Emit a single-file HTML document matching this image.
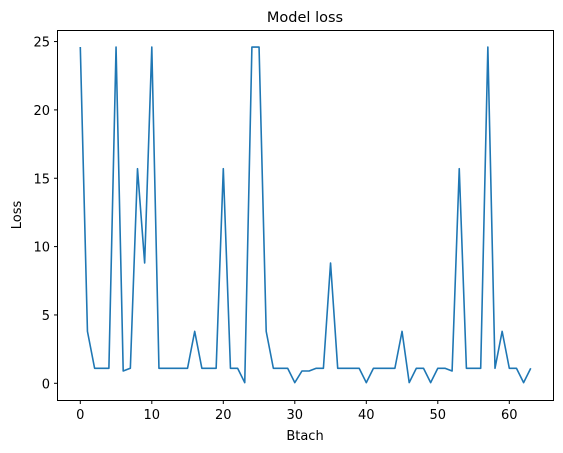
<!DOCTYPE html>
<html><head><meta charset="utf-8"><style>
body{margin:0;background:#fff;}
svg{display:block;font-family:"DejaVu Sans","Liberation Sans",sans-serif;}
</style></head><body>
<svg id="chart" width="563" height="453">
<rect width="563" height="453" fill="#fff"/>
<text x="305" y="22" text-anchor="middle" font-size="14.5">Model loss</text>
<g id="plot"></g>
<rect x="57.5" y="30.5" width="496" height="370" fill="none" stroke="#000" stroke-width="1"/>
<text x="305" y="440" text-anchor="middle" font-size="13">Btach</text>
<text transform="translate(21,215) rotate(-90)" text-anchor="middle" font-size="13">Loss</text>
</svg>
<script>
const lossValues = [24.6,3.8,1.1,1.1,1.1,24.6,0.9,1.1,15.7,8.8,24.6,1.1,1.1,1.1,1.1,1.1,3.8,1.1,1.1,1.1,15.7,1.1,1.1,0.05,24.6,24.6,3.8,1.1,1.1,1.1,0.05,0.9,0.9,1.1,1.1,8.8,1.1,1.1,1.1,1.1,0.05,1.1,1.1,1.1,1.1,3.8,0.05,1.1,1.1,0.05,1.1,1.1,0.9,15.7,1.1,1.1,1.1,24.6,1.1,3.8,1.1,1.1,0.05,1.1];
const xTicks = [0,10,20,30,40,50,60];
const yTicks = [0,5,10,15,20,25];
const NS = "http://www.w3.org/2000/svg";
function xs(v){return 80.3 + v*7.15;}
function ys(v){return 383.3 - v*13.67;}
const g = document.getElementById('plot');
xTicks.forEach(t=>{
  const l=document.createElementNS(NS,'line');
  l.setAttribute('x1',xs(t));l.setAttribute('x2',xs(t));l.setAttribute('y1',400.5);l.setAttribute('y2',404);l.setAttribute('stroke','#000');
  
  
  g.appendChild(l);
  const tx=document.createElementNS(NS,'text');
  tx.setAttribute('x',xs(t));tx.setAttribute('y',419);tx.setAttribute('text-anchor','middle');tx.setAttribute('font-size','13');
  tx.textContent=t;
  
  
  g.appendChild(tx);
});
yTicks.forEach(t=>{
  const l=document.createElementNS(NS,'line');
  l.setAttribute('x1',54);l.setAttribute('x2',57.5);l.setAttribute('y1',ys(t));l.setAttribute('y2',ys(t));l.setAttribute('stroke','#000');
  
  
  g.appendChild(l);
  const tx=document.createElementNS(NS,'text');
  tx.setAttribute('x',50);tx.setAttribute('y',ys(t)+5);tx.setAttribute('text-anchor','end');tx.setAttribute('font-size','13');
  tx.textContent=t;
  
  
  g.appendChild(tx);
});
const p=document.createElementNS(NS,'polyline');
p.setAttribute('points',lossValues.map((v,i)=>xs(i)+','+ys(v)).join(' '));
p.setAttribute('fill','none');p.setAttribute('stroke','#1f77b4');p.setAttribute('stroke-width','1.6');p.setAttribute('stroke-linejoin','round');


g.appendChild(p);
</script>
</body></html>
